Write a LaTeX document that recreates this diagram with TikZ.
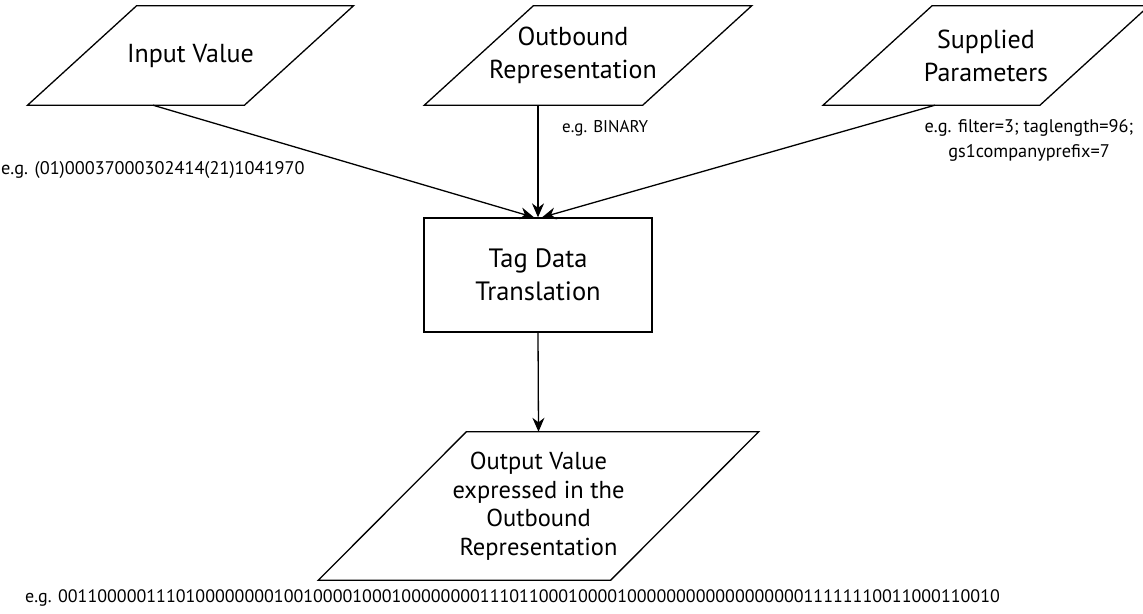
\documentclass[tikz,border=0pt]{standalone}
\usepackage{fontspec}
\setmainfont{PT Sans}
\usetikzlibrary{arrows.meta}
\begin{document}
\begin{tikzpicture}[x=1pt,y=-1pt,
		io/.style={minimum width=216.5pt,minimum height=99pt,inner sep=0pt,align=center,font=\fontsize{26}{33}\selectfont},
		proc/.style={draw,line width=1.3pt,minimum width=228pt,minimum height=114pt,inner sep=0pt,align=center,font=\fontsize{26.5}{33}\selectfont},
		eg/.style={inner sep=0pt,align=center,font=\fontsize{18.3}{25}\selectfont},
		arr/.style={line width=1.3pt,-{Stealth[length=14pt,width=12pt]}}]
		\clip (0,0) rectangle (1143,613);
		\fill[white] (0,0) rectangle (1143,613);
		\node[io] (inval) at (190.5,55.5) {Input Value};
		\node[io,minimum width=218pt] (outrep) at (573,55.5) {Outbound\\Representation};
		\node[io] (params) at (986,55.5) {Supplied\\Parameters};
		\node[proc] (tdt) at (538,275) {Tag Data\\Translation};
		\node[io,minimum width=292pt,minimum height=148pt,font=\fontsize{24.5}{28.5}\selectfont] (outval) at (538.5,506) {Output Value\\expressed in the\\Outbound\\Representation};
		\foreach \n/\t/\b in {inval/54.5/-54.5,outrep/69.5/-39.5,params/54.5/-54.5,outval/74/-74}
			\draw[line width=1.3pt] ([xshift=\t pt]\n.north west) -- ([xshift=\t pt]\n.north east) -- ([xshift=\b pt]\n.south east) -- ([xshift=\b pt]\n.south west) -- cycle;
		\node[eg,anchor=west] (eginval) at (1,170) {e.g. (01)00037000302414(21)1041970};
		\node[eg,anchor=west,font=\fontsize{17}{24}\selectfont] (egoutrep) at (562,128) {e.g. BINARY};
		\node[eg] (egparams) at (1029,140) {e.g. filter=3; taglength=96;\\gs1companyprefix=7};
		\node[eg,anchor=west,font=\fontsize{18}{24}\selectfont] (egoutval) at (25,598) {e.g. 00110000011101{}00000000{}10010000{}10001000{}00000111{}01100010{}0001{}000000000000000000{}11111110{}01100011{}0010};
		\draw[arr] ([xshift=-37.5pt]inval.south) -- ([xshift=-4pt]tdt.north);
		\draw[arr] ([xshift=-35pt]outrep.south) -- (tdt.north);
		\draw[arr] ([xshift=-51pt]params.south) -- ([xshift=4pt]tdt.north);
		\draw[arr] (tdt.south) -- (outval.north);
\end{tikzpicture}
\end{document}
